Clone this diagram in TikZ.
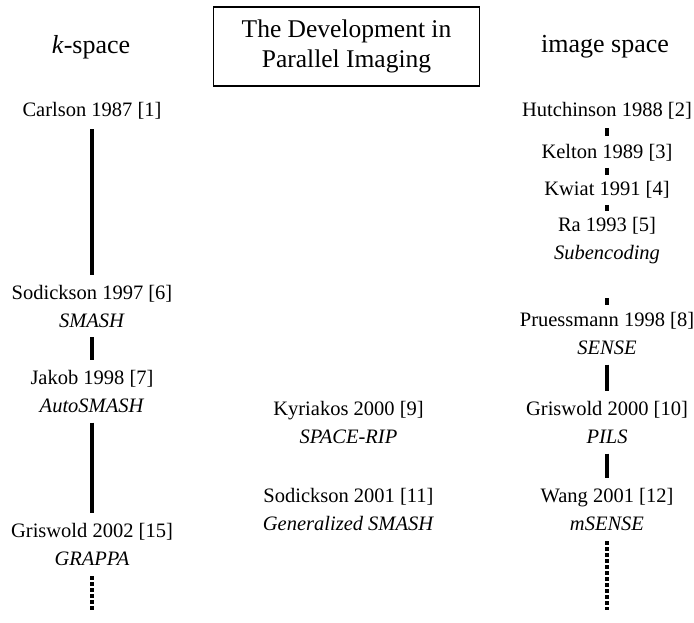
\documentclass[tikz,border=0pt]{standalone}
\usepackage{fontspec}
\setmainfont{Liberation Serif}
\usetikzlibrary{positioning}

\begin{document}
\begin{tikzpicture}[x=1pt,y=-1pt,
    entry/.style={inner sep=0pt,outer sep=0pt,align=center,
      font=\fontsize{20.5}{28}\selectfont},
    head/.style={inner sep=0pt,font=\fontsize{26}{30}\selectfont},
    link/.style={line width=4.5pt,shorten <=10pt,shorten >=10pt},
    more/.style={line width=4.5pt,dash pattern=on 3.5pt off 2.5pt,
      shorten <=11pt}]
  \useasboundingbox (0,0) rectangle (694,623);
  % headings
  \node[draw,line width=1.3pt,minimum width=266pt,minimum height=79pt,
    align=center,font=\fontsize{25.5}{30}\selectfont] (title) at (346.5,46.5)
    {The Development in\\Parallel Imaging};
  \node[head] (kspace) at (91,47) {\textit{k}-space};
  \node[head] (imspace) at (605,47) {image space};
  % k-space
  \node[entry] (carlson) at (92,111) {Carlson 1987 [1]};
  \node[entry] (sod97) at (92,306) {Sodickson 1997 [6]\\\textit{SMASH}};
  \node[entry] (jakob) at (92,391.5) {Jakob 1998 [7]\\\textit{AutoSMASH}};
  \node[entry] (gris02) at (92,544) {Griswold 2002 [15]\\\textit{GRAPPA}};
  \coordinate (moreL) at (92,612);
  % hybrid
  \node[entry] (kyr) at (348.5,422.5) {Kyriakos 2000 [9]\\\textit{SPACE-RIP}};
  \node[entry] (sod01) at (348.5,509) {Sodickson 2001 [11]\\\textit{Generalized SMASH}};
  % image space
  \node[entry] (hutch) at (607,111) {Hutchinson 1988 [2]};
  \node[entry] (kelton) at (607,153) {Kelton 1989 [3]};
  \node[entry] (kwiat) at (607,190) {Kwiat 1991 [4]};
  \node[entry] (ra) at (607,241) {Ra 1993 [5]\\\textit{Subencoding}};
  \node[entry] (pruess) at (607,333.5) {Pruessmann 1998 [8]\\\textit{SENSE}};
  \node[entry] (gris00) at (607,422.5) {Griswold 2000 [10]\\\textit{PILS}};
  \node[entry] (wang) at (607,509) {Wang 2001 [12]\\\textit{mSENSE}};
  \coordinate (moreR) at (607,610);

  \draw[link] (carlson) -- (sod97);
  \draw[link] (sod97) -- (jakob);
  \draw[link] (jakob) -- (gris02);
  \draw[more] (gris02) -- (moreL);

  \draw[link,shorten <=9pt,shorten >=9pt] (hutch) -- (kelton);
  \draw[link,shorten <=6.5pt,shorten >=6.5pt] (kelton) -- (kwiat);
  \draw[link,shorten <=6.5pt,shorten >=6.5pt] (kwiat) -- (ra);
  \draw[link,shorten <=34pt,shorten >=7pt] (ra) -- (pruess);
  \draw[link] (pruess) -- (gris00);
  \draw[link] (gris00) -- (wang);
  \draw[more] (wang) -- (moreR);
\end{tikzpicture}
\end{document}
